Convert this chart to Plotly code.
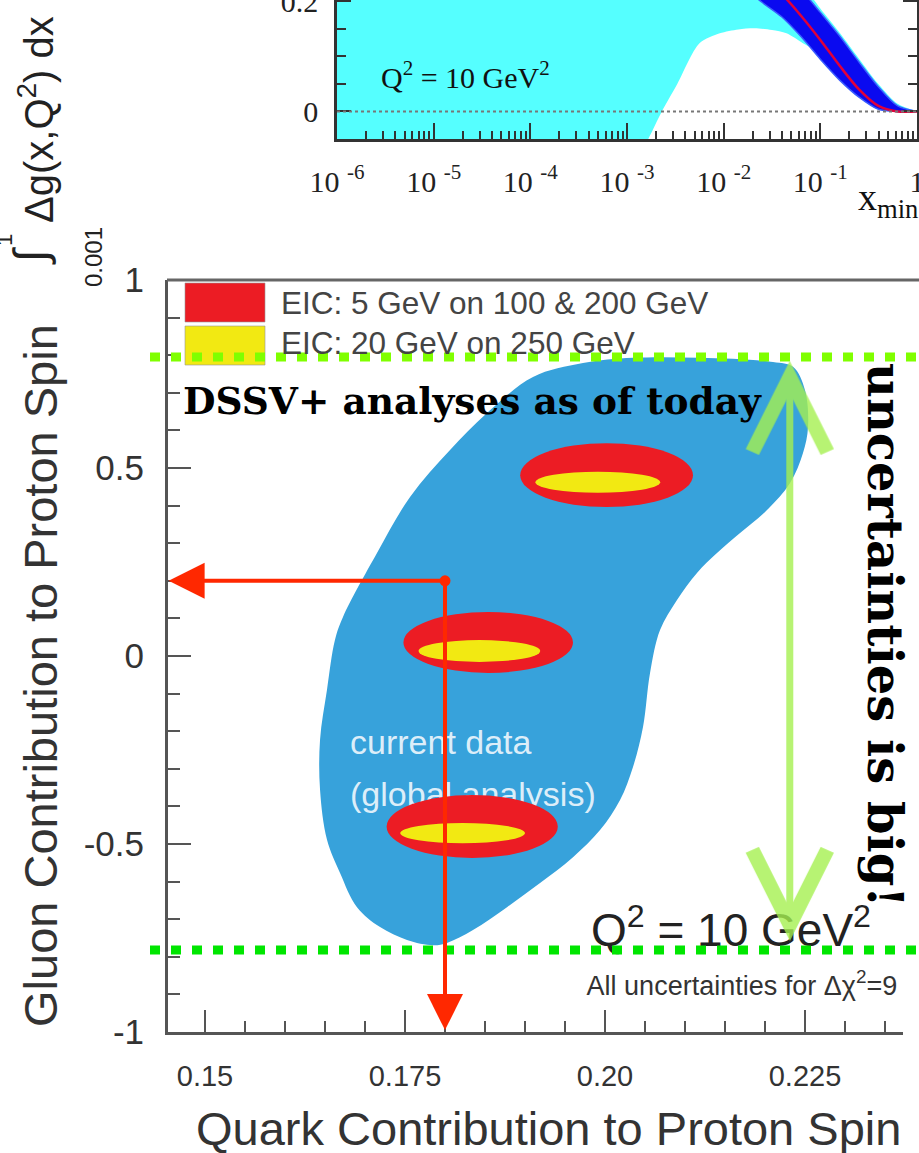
import numpy as np
import plotly.graph_objects as go

W, H = 919, 1153

# ---------------- upper panel: truncated moment of Δg vs x_min ----------------
# x_min given as log10 values
xmin_log_total = [-6.0, -3.0, -2.78, -2.64, -2.48, -2.25, -2.04, -1.85, -1.68, -1.5,
                  -1.35, -1.18, -1.0, -0.8, -0.6, -0.4, -0.2, 0.0]
total_band_lo = [-0.3, -0.12, -0.05, 0.0, 0.05, 0.124, 0.142, 0.149, 0.151, 0.148,
                 0.142, 0.124, 0.105, 0.067, 0.036, 0.012, 0.004, 0.0]
total_band_hi = [0.6, 0.5, 0.48, 0.47, 0.46, 0.44, 0.42, 0.39, 0.36, 0.31,
                 0.27, 0.23, 0.187, 0.143, 0.096, 0.05, 0.014, 0.0]

xmin_log_fit = [-1.9, -1.6, -1.4, -1.2, -1.0, -0.8, -0.6, -0.4, -0.2, 0.0]
fit_band_lo = [0.24, 0.198, 0.172, 0.136, 0.095, 0.057, 0.026, 0.004, 0.0, 0.0]
fit_band_hi = [0.36, 0.30, 0.26, 0.222, 0.18, 0.137, 0.09, 0.045, 0.01, 0.0]
fit_central = [0.30, 0.25, 0.214, 0.174, 0.13, 0.083, 0.04, 0.01, 0.0, 0.0]

top_xtick_exp = [-6, -5, -4, -3, -2, -1, 0]
top_ytick_vals = [0, 0.2]
top_ytick_text = ["0", "0.2"]

# ---------------- lower panel: quark vs gluon spin contribution ----------------
dssv_quark = [0.18063, 0.18525, 0.1910, 0.19725, 0.2035, 0.21188, 0.221, 0.2235, 0.225,
              0.22538, 0.22475, 0.22313, 0.22025, 0.21688, 0.214, 0.2115, 0.209, 0.20688,
              0.20563, 0.20475, 0.2035, 0.20188, 0.19938, 0.196, 0.19188, 0.18775, 0.1835,
              0.18025, 0.1785, 0.17525, 0.17188, 0.169, 0.16688, 0.16525, 0.16438, 0.16438,
              0.16525, 0.16625, 0.16725, 0.1715, 0.17563]
dssv_gluon = [0.548, 0.646, 0.742, 0.779, 0.793, 0.793, 0.782, 0.769, 0.707,
              0.609, 0.540, 0.460, 0.388, 0.327, 0.274, 0.221, 0.149, 0.069,
              -0.045, -0.189, -0.295, -0.383, -0.463, -0.535, -0.604, -0.668, -0.729,
              -0.763, -0.769, -0.755, -0.721, -0.668, -0.577, -0.489, -0.356, -0.223,
              -0.090, 0.043, 0.104, 0.274, 0.423]

eic_labels = ["EIC: 5 GeV on 100 & 200 GeV", "EIC: 20 GeV on 250 GeV"]
eic5_quark = [0.2002, 0.1854, 0.1834]
eic5_gluon = [0.481, 0.036, -0.4535]
eic5_dquark = [0.0108, 0.0106, 0.0107]
eic5_dgluon = [0.085, 0.081, 0.0838]
eic20_quark = [0.1991, 0.1843, 0.1822]
eic20_gluon = [0.462, 0.0133, -0.471]
eic20_dquark = [0.0078, 0.0076, 0.0078]
eic20_dgluon = [0.0279, 0.029, 0.027]

read_quark = 0.18
read_gluon = 0.2
gluon_spread = [0.795, -0.782]      # upper / lower edge of the current band
spread_quark = 0.2231

main_xtick_vals = [0.15, 0.175, 0.20, 0.225]
main_xtick_text = ["0.15", "0.175", "0.20", "0.225"]
main_ytick_vals = [-1, -0.5, 0, 0.5, 1]
main_ytick_text = ["-1", "-0.5", "0", "0.5", "1"]

SANS = "Liberation Sans, Arial, sans-serif"
SERIF = "Liberation Serif, Times New Roman, serif"
SLAB = "DejaVu Serif, serif"


def px(x):
    return x / W


def py(y):
    return 1 - y / H


fig = go.Figure()

# ---- upper panel traces ----
xt = list(10 ** np.array(xmin_log_total))
fig.add_trace(go.Scatter(
    x=xt + xt[::-1], y=total_band_hi + total_band_lo[::-1],
    fill="toself", fillcolor="#55FFFF", line=dict(width=0, shape="spline", smoothing=0.8),
    mode="lines", xaxis="x", yaxis="y", hoverinfo="skip"))

xf = list(10 ** np.array(xmin_log_fit))
fig.add_trace(go.Scatter(
    x=xf + xf[::-1], y=fit_band_hi + fit_band_lo[::-1],
    fill="toself", fillcolor="#0A0AF0", line=dict(width=1.5, color="#3a5cff", shape="spline", smoothing=0.8),
    mode="lines", xaxis="x", yaxis="y", hoverinfo="skip"))
fig.add_trace(go.Scatter(
    x=xf, y=fit_central, mode="lines",
    line=dict(color="#E0003A", width=2.5, shape="spline", smoothing=0.8),
    xaxis="x", yaxis="y", hoverinfo="skip"))

# ---- lower panel traces ----
fig.add_trace(go.Scatter(
    x=dssv_quark + dssv_quark[:1], y=dssv_gluon + dssv_gluon[:1],
    fill="toself", fillcolor="#37A2DB", mode="lines",
    line=dict(width=0, shape="spline", smoothing=1.0),
    xaxis="x2", yaxis="y2", hoverinfo="skip"))

fig.add_trace(go.Scatter(
    x=[0.16813, 0.16813], y=[-0.239, -0.375],
    text=["current data", "(global analysis)"], mode="text",
    textposition="middle right",
    textfont=dict(family=SANS, size=34, color="rgba(232,244,252,0.95)"),
    xaxis="x2", yaxis="y2", hoverinfo="skip", cliponaxis=False))

fig.add_trace(go.Scatter(
    x=[0.21575], y=[-0.742], text=["Q<sup>2</sup> = 10 GeV<sup>2</sup>"], mode="text",
    textposition="middle center",
    textfont=dict(family=SANS, size=46, color="#222"),
    xaxis="x2", yaxis="y2", hoverinfo="skip", cliponaxis=False))
fig.add_trace(go.Scatter(
    x=[0.1977], y=[-0.883], text=["All uncertainties for \u0394\u03c7<sup>2</sup>=9"], mode="text",
    textposition="middle right",
    textfont=dict(family=SANS, size=27, color="#333"),
    xaxis="x2", yaxis="y2", hoverinfo="skip", cliponaxis=False))

fig.add_trace(go.Scatter(
    x=[read_quark], y=[read_gluon], mode="markers",
    marker=dict(color="#FF2800", size=11),
    xaxis="x2", yaxis="y2", hoverinfo="skip"))

shapes = []
# EIC projected uncertainty ellipses
for cx, cy, rx, ry in zip(eic5_quark, eic5_gluon, eic5_dquark, eic5_dgluon):
    shapes.append(dict(type="circle", xref="x2", yref="y2",
                       x0=cx - rx, x1=cx + rx, y0=cy - ry, y1=cy + ry,
                       fillcolor="#EC1C24", line=dict(width=0), layer="above"))
for cx, cy, rx, ry in zip(eic20_quark, eic20_gluon, eic20_dquark, eic20_dgluon):
    shapes.append(dict(type="circle", xref="x2", yref="y2",
                       x0=cx - rx, x1=cx + rx, y0=cy - ry, y1=cy + ry,
                       fillcolor="#F2E912", line=dict(width=0), layer="above"))

# legend swatches
shapes.append(dict(type="rect", xref="paper", yref="paper",
                   x0=px(185), x1=px(265), y0=py(322), y1=py(283),
                   fillcolor="#EC1C24", line=dict(width=1, color="rgba(150,150,150,0.6)")))
shapes.append(dict(type="rect", xref="paper", yref="paper",
                   x0=px(185), x1=px(265), y0=py(365), y1=py(326),
                   fillcolor="#F2E912", line=dict(width=1, color="rgba(150,150,150,0.6)")))

# frame top border of lower panel
shapes.append(dict(type="line", xref="paper", yref="paper",
                   x0=px(167), x1=1.0, y0=py(280), y1=py(280),
                   line=dict(color="#666", width=3)))

# dotted zero line of upper panel
shapes.append(dict(type="line", xref="x domain", yref="y",
                   x0=0, x1=1, y0=0, y1=0,
                   line=dict(color="#777", width=2, dash="dot")))

# green dotted lines at the edges of the current band
shapes.append(dict(type="line", xref="paper", yref="y2",
                   x0=px(150), x1=1.0, y0=gluon_spread[0], y1=gluon_spread[0],
                   line=dict(color="#80FF00", width=9, dash="10px,11px")))
shapes.append(dict(type="line", xref="paper", yref="y2",
                   x0=px(150), x1=1.0, y0=gluon_spread[1], y1=gluon_spread[1],
                   line=dict(color="#00E600", width=9, dash="10px,11px")))

annotations = [
    # upper panel y title
    dict(text="\u0394g(x,Q<sup>2</sup>) dx", x=px(36), y=py(120), textangle=-90,
         font=dict(family=SANS, size=40, color="#222")),
    dict(text="\u222b", x=px(30), y=py(256), textangle=-90,
         font=dict(family=SANS, size=46, color="#222")),
    dict(text="1", x=px(5), y=py(240), textangle=-90,
         font=dict(family=SANS, size=22, color="#222")),
    dict(text="0.001", x=px(93), y=py(257), textangle=-90,
         font=dict(family=SANS, size=24, color="#222")),
    dict(text="Q<sup>2</sup> = 10 GeV<sup>2</sup>", x=px(465), y=py(75),
         font=dict(family=SERIF, size=30, color="#111")),
    dict(text="x<sub>min</sub>", x=px(888), y=py(200),
         font=dict(family=SERIF, size=38, color="#111")),
    # lower panel titles
    dict(text="Gluon Contribution to Proton Spin", x=px(40), y=py(676), textangle=-90,
         font=dict(family=SANS, size=47, color="#333")),
    dict(text="Quark Contribution to Proton Spin", x=px(548), y=py(1128),
         font=dict(family=SANS, size=47, color="#333")),
    # legend entries
    dict(text=eic_labels[0], x=px(279), y=py(303), xanchor="left",
         font=dict(family=SANS, size=31.5, color="#444")),
    dict(text=eic_labels[1], x=px(279), y=py(343), xanchor="left",
         font=dict(family=SANS, size=31.5, color="#444")),
    # slide remarks
    dict(text="DSSV+ analyses as of today", x=px(181), y=py(401), xanchor="left",
         font=dict(family=SLAB, size=37.5, color="#000", weight="bold")),
    dict(text="uncertainties is big!", x=px(885), y=py(635), textangle=90,
         font=dict(family=SLAB, size=48, color="#000", weight="bold")),
    # red read-off arrows
    dict(text="", x=0.14545, y=read_gluon, ax=read_quark, ay=read_gluon,
         xref="x2", yref="y2", axref="x2", ayref="y2", showarrow=True,
         arrowhead=2, arrowsize=1.8, arrowwidth=4, arrowcolor="#FF2800"),
    dict(text="", x=read_quark, y=-0.995, ax=read_quark, ay=read_gluon,
         xref="x2", yref="y2", axref="x2", ayref="y2", showarrow=True,
         arrowhead=2, arrowsize=1.8, arrowwidth=4, arrowcolor="#FF2800"),
    # green double arrow spanning the band
    dict(text="", x=spread_quark, y=gluon_spread[0] - 0.01, ax=spread_quark, ay=gluon_spread[1] + 0.02,
         xref="x2", yref="y2", axref="x2", ayref="y2", showarrow=True,
         arrowhead=5, startarrowhead=5, arrowside="end+start", arrowsize=2.1, startarrowsize=2.1,
         arrowwidth=7, arrowcolor="rgba(165,240,80,0.8)"),
]
for a in annotations:
    a.setdefault("xref", "paper")
    a.setdefault("yref", "paper")
    a.setdefault("showarrow", False)
    a.setdefault("xanchor", "center")
    a.setdefault("yanchor", "middle")

minor_log = [m * 10.0 ** e for e in range(-6, 0) for m in range(2, 10)]

fig.update_layout(
    width=W, height=H, margin=dict(l=0, r=0, t=0, b=0, autoexpand=False),
    paper_bgcolor="white", plot_bgcolor="rgba(0,0,0,0)",
    showlegend=False, shapes=shapes, annotations=annotations,
    xaxis=dict(type="log", range=[-6, 0], domain=[px(337), px(917)], anchor="y",
               automargin=False, ticklabeloverflow="allow",
               showline=True, linecolor="#333", linewidth=2.5, mirror=False,
               ticks="inside", ticklen=16, tickwidth=2, tickcolor="#333",
               tickmode="array", tickvals=[10.0 ** e for e in top_xtick_exp],
               ticktext=["10 <sup>%d</sup>" % e if e != 0 else "1" for e in top_xtick_exp],
               minor=dict(tickmode="array", tickvals=minor_log, ticks="inside",
                          ticklen=8, tickwidth=1.5, tickcolor="#333"),
               tickfont=dict(family=SERIF, size=30, color="#222"),
               ticklabelstandoff=14, showgrid=False, zeroline=False),
    yaxis=dict(range=[-0.05, 0.2025], domain=[py(139), 1.0], anchor="x",
               automargin=False, ticklabeloverflow="allow",
               showline=True, linecolor="#333", linewidth=2.5, mirror="ticks",
               ticks="inside", ticklen=14, tickwidth=2, tickcolor="#333",
               tickmode="array", tickvals=top_ytick_vals, ticktext=top_ytick_text,
               minor=dict(dtick=0.05, tick0=0, ticks="inside", ticklen=9, tickwidth=1.5,
                          tickcolor="#333"),
               tickfont=dict(family=SERIF, size=30, color="#222"),
               ticklabelstandoff=10, showgrid=False, zeroline=False),
    xaxis2=dict(range=[0.145375, 0.23725], domain=[px(168), px(903)], anchor="y2",
                automargin=False,
                showline=True, linecolor="#555", linewidth=3,
                ticks="inside", ticklen=22, tickwidth=2, tickcolor="#555",
                tickmode="array", tickvals=main_xtick_vals, ticktext=main_xtick_text,
                minor=dict(dtick=0.005, tick0=0.15, ticks="inside", ticklen=11,
                           tickwidth=2, tickcolor="#555"),
                tickfont=dict(family=SANS, size=29, color="#333"),
                ticklabelstandoff=16, showgrid=False, zeroline=False),
    yaxis2=dict(range=[-1, 1], domain=[py(1032), py(280)], anchor="x2",
                automargin=False,
                showline=True, linecolor="#555", linewidth=3,
                ticks="inside", ticklen=23, tickwidth=2, tickcolor="#555",
                tickmode="array", tickvals=main_ytick_vals, ticktext=main_ytick_text,
                minor=dict(dtick=0.1, tick0=0, ticks="inside", ticklen=12,
                           tickwidth=2, tickcolor="#555"),
                tickfont=dict(family=SANS, size=35, color="#333"),
                ticklabelstandoff=14, showgrid=False, zeroline=False),
)

fig.write_html("out.html")
